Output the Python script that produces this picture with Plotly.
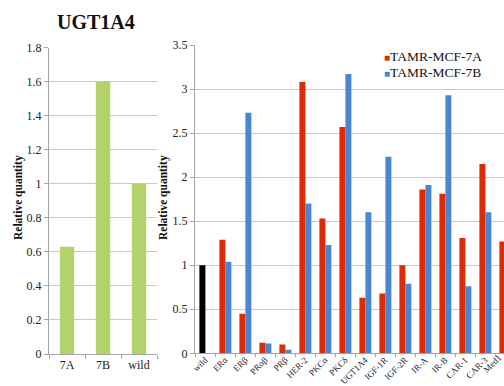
import plotly.graph_objects as go

# UGT1A4 expression in the two resistant lines vs. wild type
ugt_labels = ["7A", "7B", "wild"]
ugt_values = [0.63, 1.60, 1.00]

# Panel of genes, relative quantity per line
genes = ["wild", "ERα", "ERβ", "PRαβ", "PRβ", "HER-2", "PKCα", "PKCδ",
         "UGT1A4", "IGF-1R", "IGF-2R", "IR-A", "IR-B", "CAR-1", "CAR-3", "Med1"]
mcf7a = [1.00, 1.29, 0.45, 0.12, 0.10, 3.08, 1.53, 2.57,
         0.63, 0.68, 1.00, 1.86, 1.81, 1.31, 2.15, 1.27]
mcf7b = [None, 1.04, 2.73, 0.11, 0.04, 1.70, 1.23, 3.17,
         1.60, 2.23, 0.79, 1.91, 2.93, 0.76, 1.60, 0.83]
series_names = ["TAMR-MCF-7A", "TAMR-MCF-7B"]

GREEN = "#b2d36b"
RED = "#dc2c06"
BLUE = "#4a87ce"
GRID = "#c9c9c9"
AXIS = "#a6a6a6"
FONT = "Liberation Serif"

W, H = 504, 386

def px_x(v):
    return v / W

def px_y(v):
    return (H - v) / H

fig = go.Figure()

fig.add_trace(go.Bar(
    x=ugt_labels, y=ugt_values, marker=dict(color=GREEN, line_width=0),
    width=0.4, xaxis="x", yaxis="y", showlegend=False,
))

# the wild-type reference bar is drawn in black within the 7A series
red_colors = ["#000000" if g == "wild" else RED for g in genes]
fig.add_trace(go.Bar(
    x=genes, y=mcf7a, name=series_names[0],
    marker=dict(color=red_colors, line_width=0),
    width=0.3, offset=-0.28, xaxis="x2", yaxis="y2", showlegend=False,
))
fig.add_trace(go.Bar(
    x=genes, y=mcf7b, name=series_names[1],
    marker=dict(color=BLUE, line_width=0),
    width=0.3, offset=0.02, xaxis="x2", yaxis="y2", showlegend=False,
))

tick_font = dict(family=FONT, size=12, color="#222222")
gene_font = dict(family=FONT, size=9, color="#222222")

common_y = dict(
    showgrid=True, gridcolor=GRID, gridwidth=1,
    showline=True, linecolor=AXIS, linewidth=1,
    ticks="outside", ticklen=4, tickcolor=AXIS,
    tickfont=tick_font, zeroline=False, automargin=False,
)
common_x = dict(
    showgrid=False, showline=True, linecolor=AXIS, linewidth=1,
    ticks="outside", tickcolor=AXIS, tickson="boundaries",
    automargin=False, type="category",
)

fig.update_layout(
    width=W, height=H,
    margin=dict(l=0, r=0, t=0, b=0),
    paper_bgcolor="white", plot_bgcolor="white",
    template="none",
    barmode="overlay",
    showlegend=False,
    font=dict(family=FONT, color="#222222"),
    xaxis=dict(domain=[px_x(49), px_x(157)], anchor="y", ticklen=4,
               range=[-0.5, 2.5], tickfont=tick_font, **common_x),
    yaxis=dict(domain=[px_y(354), px_y(47.7)], anchor="x",
               range=[0, 1.8], dtick=0.2, **common_y),
    xaxis2=dict(domain=[px_x(195), 1.0], anchor="y2", ticklen=3,
                ticklabelstandoff=-3,
                range=[-0.5, 14.95], tickangle=-45, tickfont=gene_font,
                **common_x),
    yaxis2=dict(domain=[px_y(353.3), px_y(45)], anchor="x2",
                range=[0, 3.5], dtick=0.5, **common_y),
)

annotations = [
    dict(text="<b>UGT1A4</b>", x=px_x(96), y=px_y(22), xref="paper", yref="paper",
         showarrow=False, font=dict(family=FONT, size=20, color="#111111"),
         xanchor="center", yanchor="middle"),
    dict(text="<b>Relative quantity</b>", x=px_x(18), y=px_y(198),
         xref="paper", yref="paper", textangle=-90, showarrow=False,
         font=dict(family=FONT, size=11.5, color="#111111"),
         xanchor="center", yanchor="middle"),
    dict(text="<b>Relative quantity</b>", x=px_x(163), y=px_y(198),
         xref="paper", yref="paper", textangle=-90, showarrow=False,
         font=dict(family=FONT, size=11.5, color="#111111"),
         xanchor="center", yanchor="middle"),
]

# series key in the upper right of the gene panel
for name, color, ypos in [(series_names[0], RED, 57), (series_names[1], BLUE, 72)]:
    annotations.append(dict(
        text=f'<span style="color:{color};font-size:10px">■</span>{name}',
        x=px_x(382), y=px_y(ypos), xref="paper", yref="paper",
        showarrow=False, xanchor="left", yanchor="middle",
        font=dict(family=FONT, size=13.5, color="#111111"),
    ))

# label of the last category, whose tick lies just past the right edge
annotations.append(dict(
    text=genes[-1], x=px_x(492), y=px_y(364), xref="paper", yref="paper",
    textangle=-45, showarrow=False, xanchor="center", yanchor="middle",
    font=gene_font,
))

fig.update_layout(annotations=annotations)

fig.write_html("out.html")
